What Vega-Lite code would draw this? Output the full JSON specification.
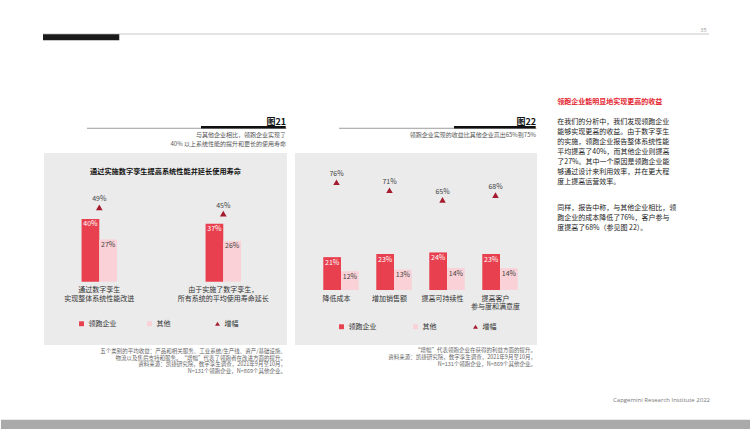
{
  "$schema": "https://vega.github.io/schema/vega-lite/v6.json",
  "background": "#ffffff",
  "padding": {"left": 0, "top": 26, "right": 0, "bottom": 0},
  "config": {
    "view": {"stroke": null},
    "font": "Noto Sans CJK SC",
    "text": {"font": "Noto Sans CJK SC"},
    "legend": {"labelFont": "Noto Sans CJK SC"}
  },
  "datasets": {
    "d21": [
      {"cat": "通过数字孪生\n实现整体系统性能改进", "series": "领跑企业", "value": 0.40},
      {"cat": "通过数字孪生\n实现整体系统性能改进", "series": "其他", "value": 0.27},
      {"cat": "由于实施了数字孪生，\n所有系统的平均使用寿命延长", "series": "领跑企业", "value": 0.37},
      {"cat": "由于实施了数字孪生，\n所有系统的平均使用寿命延长", "series": "其他", "value": 0.26}
    ],
    "g21": [
      {"cat": "通过数字孪生\n实现整体系统性能改进", "growth": 0.49},
      {"cat": "由于实施了数字孪生，\n所有系统的平均使用寿命延长", "growth": 0.45}
    ],
    "d22": [
      {"cat": "降低成本", "series": "领跑企业", "value": 0.21},
      {"cat": "降低成本", "series": "其他", "value": 0.12},
      {"cat": "增加销售额", "series": "领跑企业", "value": 0.23},
      {"cat": "增加销售额", "series": "其他", "value": 0.13},
      {"cat": "提高可持续性", "series": "领跑企业", "value": 0.24},
      {"cat": "提高可持续性", "series": "其他", "value": 0.14},
      {"cat": "提高客户\n参与度和满意度", "series": "领跑企业", "value": 0.23},
      {"cat": "提高客户\n参与度和满意度", "series": "其他", "value": 0.14}
    ],
    "g22": [
      {"cat": "降低成本", "growth": 0.76},
      {"cat": "增加销售额", "growth": 0.71},
      {"cat": "提高可持续性", "growth": 0.65},
      {"cat": "提高客户\n参与度和满意度", "growth": 0.68}
    ],
    "hdr": [
      {"id": "21", "fig": "图21", "sub": "与其他企业相比，领跑企业实现了\n40% 以上系统性能的提升和更长的使用寿命", "inner": "通过实施数字孪生提高系统性能并延长使用寿命", "foot": "五个类别的平均收益：产品和相关服务、工业系统/生产线、资产/基础设施、\n物流以及售后支持和服务。“增幅”代表了领跑者在改进方面的提升。\n资料来源：凯捷研究院，数字孪生调查，2021年9月至10月，\nN=131个领跑企业，N=869个其他企业。"},
      {"id": "22", "fig": "图22", "sub": "领跑企业实现的收益比其他企业高出65%到75%", "inner": "", "foot": "“增幅”代表领跑企业在获得的利益方面的提升。\n资料来源：凯捷研究院，数字孪生调查，2021年9月至10月，\nN=131个领跑企业，N=869个其他企业。"}
    ],
    "txt": [
      {"block": "title", "text": "领跑企业能明显地实现更高的收益"},
      {"block": "p1", "text": "在我们的分析中，我们发现领跑企业\n能够实现更高的收益。由于数字孪生\n的实施，领跑企业报告整体系统性能\n平均提高了40%，而其他企业则提高\n了27%。其中一个原因是领跑企业能\n够通过设计来利用效率，并在更大程\n度上提高运营效率。"},
      {"block": "p2", "text": "同样，报告中称，与其他企业相比，领\n跑企业的成本降低了76%，客户参与\n度提高了68%（参见图 22）。"}
    ],
    "page": [
      {"num": "35", "credit": "Capgemini Research Institute 2022"}
    ]
  },
  "spacing": 53,
  "vconcat": [
    {
      "width": 666,
      "height": 16,
      "data": {"name": "page"},
      "layer": [
        {
          "mark": {"type": "rule", "stroke": "#c8c8c8", "strokeWidth": 1},
          "encoding": {
            "x": {"datum": -0.0015, "type": "quantitative", "scale": {"domain": [0, 1]}, "axis": null},
            "x2": {"datum": 0.9985},
            "y": {"datum": 0.5, "type": "quantitative", "scale": {"domain": [0, 1], "reverse": true}, "axis": null}
          }
        },
        {
          "mark": {"type": "rule", "stroke": "#1a1a1a", "strokeWidth": 6},
          "encoding": {
            "x": {"datum": -0.0015, "type": "quantitative", "scale": {"domain": [0, 1]}, "axis": null},
            "x2": {"datum": 0.113},
            "y": {"datum": 0.7, "type": "quantitative", "scale": {"domain": [0, 1], "reverse": true}, "axis": null}
          }
        },
        {
          "mark": {"type": "text", "align": "right", "baseline": "middle", "fontSize": 5.5, "color": "#999999", "font": "Open Sans"},
          "encoding": {
            "x": {"datum": 0.995, "type": "quantitative", "scale": {"domain": [0, 1]}, "axis": null},
            "y": {"datum": 0.25, "type": "quantitative", "scale": {"domain": [0, 1], "reverse": true}, "axis": null},
            "text": {"field": "num"}
          }
        }
      ]
    },
    {
      "spacing": 14,
      "vconcat": [
        {
          "spacing": 19,
          "hconcat": [
            {
              "spacing": 7,
              "hconcat": [
                {
                  "spacing": 3,
                  "resolve": {"scale": {"color": "independent", "shape": "independent"}},
                  "vconcat": [
                    {
                      "width": 243,
                      "height": 55,
                      "data": {"name": "hdr"},
                      "transform": [{"filter": "datum.id === '21'"}],
                      "layer": [
                        {
                          "mark": {"type": "rule", "stroke": "#9c9c9c", "strokeWidth": 1},
                          "encoding": {
                            "x": {"datum": 0.177, "type": "quantitative", "scale": {"domain": [0, 1]}, "axis": null},
                            "x2": {"datum": 0.998},
                            "y": {"datum": 0.605, "type": "quantitative", "scale": {"domain": [0, 1], "reverse": true}, "axis": null}
                          }
                        },
                        {
                          "mark": {"type": "rule", "stroke": "#111111", "strokeWidth": 2.6},
                          "encoding": {
                            "x": {"datum": 0.646, "type": "quantitative", "scale": {"domain": [0, 1]}, "axis": null},
                            "x2": {"datum": 0.9946},
                            "y": {"datum": 0.587, "type": "quantitative", "scale": {"domain": [0, 1], "reverse": true}, "axis": null}
                          }
                        },
                        {
                          "mark": {"type": "text", "align": "right", "baseline": "middle", "fontSize": 9, "fontWeight": "bold", "color": "#111111"},
                          "encoding": {
                            "x": {"datum": 0.996, "type": "quantitative", "scale": {"domain": [0, 1]}, "axis": null},
                            "y": {"datum": 0.485, "type": "quantitative", "scale": {"domain": [0, 1], "reverse": true}, "axis": null},
                            "text": {"field": "fig"}
                          }
                        },
                        {
                          "mark": {"type": "text", "align": "right", "baseline": "top", "fontSize": 6, "lineHeight": 9, "lineBreak": "\n", "color": "#555555"},
                          "encoding": {
                            "x": {"datum": 0.996, "type": "quantitative", "scale": {"domain": [0, 1]}, "axis": null},
                            "y": {"datum": 0.676, "type": "quantitative", "scale": {"domain": [0, 1], "reverse": true}, "axis": null},
                            "text": {"field": "sub"}
                          }
                        }
                      ]
                    },
                    {
                      "width": 243,
                      "height": 192,
                      "view": {"fill": "#ebebeb", "stroke": null},
                      "resolve": {"scale": {"y": "independent"}},
                      "layer": [
                        {
                          "data": {"name": "d21"},
                          "mark": {"type": "bar"},
                          "encoding": {
                            "x": {"field": "cat", "type": "nominal", "sort": null, "axis": null, "scale": {"paddingInner": 0.5, "paddingOuter": 0.23, "align": 0.426}},
                            "xOffset": {"field": "series", "type": "nominal", "sort": ["领跑企业", "其他"], "scale": {"paddingInner": 0, "paddingOuter": 0.75}},
                            "y": {"field": "value", "type": "quantitative", "axis": null, "scale": {"domain": [-0.404, 0.821], "nice": false, "zero": false}},
                            "color": {
                              "field": "series", "type": "nominal",
                              "scale": {"domain": ["领跑企业", "其他", "增幅"], "range": ["#e8404e", "#f9d1d6", "#a41b2e"]},
                              "legend": {"title": null, "orient": "none", "legendX": 34, "legendY": 167, "direction": "horizontal", "gridAlign": "all", "columnPadding": 29, "symbolSize": 24, "labelFontSize": 7, "labelColor": "#333333", "labelOffset": 3.5, "padding": 0, "symbolStrokeWidth": 0}
                            }
                          }
                        },
                        {
                          "data": {"name": "d21"},
                          "mark": {"type": "text", "baseline": "top", "dy": 1.5, "fontSize": 7},
                          "encoding": {
                            "x": {"field": "cat", "type": "nominal", "sort": null, "axis": null},
                            "xOffset": {"field": "series", "type": "nominal", "sort": ["领跑企业", "其他"]},
                            "y": {"field": "value", "type": "quantitative", "axis": null, "scale": {"domain": [-0.404, 0.821], "nice": false, "zero": false}},
                            "text": {"field": "value", "format": ".0%"},
                            "color": {"condition": {"test": "datum.series === '领跑企业'", "value": "#ffffff"}, "value": "#444444"}
                          }
                        },
                        {
                          "data": {"name": "g21"},
                          "mark": {"type": "text", "baseline": "top", "dy": 4.5, "fontSize": 7, "lineBreak": "\n", "lineHeight": 8.5, "color": "#333333"},
                          "encoding": {
                            "x": {"field": "cat", "type": "nominal", "sort": null, "axis": null},
                            "y": {"datum": 0, "type": "quantitative", "axis": null, "scale": {"domain": [-0.404, 0.821], "nice": false, "zero": false}},
                            "text": {"field": "cat"}
                          }
                        },
                        {
                          "data": {"name": "g21"},
                          "mark": {"type": "point", "filled": true, "size": 45, "opacity": 1},
                          "encoding": {
                            "x": {"field": "cat", "type": "nominal", "sort": null, "axis": null},
                            "y": {"field": "growth", "type": "quantitative", "axis": null, "scale": {"domain": [-0.389, 0.8365], "nice": false, "zero": false}},
                            "color": {"datum": "增幅", "type": "nominal"},
                            "shape": {
                              "datum": "增幅", "type": "nominal",
                              "scale": {"domain": ["领跑企业", "其他", "增幅"], "range": ["square", "square", "triangle-up"]},
                              "legend": {"title": null, "orient": "none", "legendX": 34, "legendY": 167, "direction": "horizontal", "gridAlign": "all", "columnPadding": 29, "symbolSize": 24, "labelFontSize": 7, "labelColor": "#333333", "labelOffset": 3.5, "padding": 0, "symbolStrokeWidth": 0}
                            }
                          }
                        },
                        {
                          "data": {"name": "g21"},
                          "mark": {"type": "text", "baseline": "middle", "dy": -8, "fontSize": 7, "color": "#444444"},
                          "encoding": {
                            "x": {"field": "cat", "type": "nominal", "sort": null, "axis": null},
                            "y": {"field": "growth", "type": "quantitative", "axis": null, "scale": {"domain": [-0.389, 0.8365], "nice": false, "zero": false}},
                            "text": {"field": "growth", "format": ".0%"}
                          }
                        },
                        {
                          "data": {"name": "hdr"},
                          "transform": [{"filter": "datum.id === '21'"}],
                          "mark": {"type": "text", "baseline": "middle", "fontSize": 7.2, "fontWeight": "bold", "color": "#111111"},
                          "encoding": {
                            "y": {"datum": 0.9026, "type": "quantitative", "axis": null, "scale": {"domain": [0, 1]}},
                            "text": {"field": "inner"}
                          }
                        }
                      ]
                    },
                    {
                      "width": 243,
                      "height": 30,
                      "data": {"name": "hdr"},
                      "transform": [{"filter": "datum.id === '21'"}],
                      "mark": {"type": "text", "align": "right", "baseline": "top", "fontSize": 5.5, "lineHeight": 6.7, "lineBreak": "\n", "color": "#666666"},
                      "encoding": {
                        "x": {"datum": 0.996, "type": "quantitative", "scale": {"domain": [0, 1]}, "axis": null},
                        "y": {"datum": 0.03, "type": "quantitative", "scale": {"domain": [0, 1], "reverse": true}, "axis": null},
                        "text": {"field": "foot"}
                      }
                    }
                  ]
                },
                {
                  "spacing": 3,
                  "resolve": {"scale": {"color": "independent", "shape": "independent"}},
                  "vconcat": [
                    {
                      "width": 242,
                      "height": 55,
                      "data": {"name": "hdr"},
                      "transform": [{"filter": "datum.id === '22'"}],
                      "layer": [
                        {
                          "mark": {"type": "rule", "stroke": "#9c9c9c", "strokeWidth": 1},
                          "encoding": {
                            "x": {"datum": 0.182, "type": "quantitative", "scale": {"domain": [0, 1]}, "axis": null},
                            "x2": {"datum": 0.998},
                            "y": {"datum": 0.605, "type": "quantitative", "scale": {"domain": [0, 1], "reverse": true}, "axis": null}
                          }
                        },
                        {
                          "mark": {"type": "rule", "stroke": "#111111", "strokeWidth": 2.6},
                          "encoding": {
                            "x": {"datum": 0.657, "type": "quantitative", "scale": {"domain": [0, 1]}, "axis": null},
                            "x2": {"datum": 0.9946},
                            "y": {"datum": 0.587, "type": "quantitative", "scale": {"domain": [0, 1], "reverse": true}, "axis": null}
                          }
                        },
                        {
                          "mark": {"type": "text", "align": "right", "baseline": "middle", "fontSize": 9, "fontWeight": "bold", "color": "#111111"},
                          "encoding": {
                            "x": {"datum": 0.996, "type": "quantitative", "scale": {"domain": [0, 1]}, "axis": null},
                            "y": {"datum": 0.485, "type": "quantitative", "scale": {"domain": [0, 1], "reverse": true}, "axis": null},
                            "text": {"field": "fig"}
                          }
                        },
                        {
                          "mark": {"type": "text", "align": "right", "baseline": "top", "fontSize": 6, "lineHeight": 9, "lineBreak": "\n", "color": "#555555"},
                          "encoding": {
                            "x": {"datum": 0.996, "type": "quantitative", "scale": {"domain": [0, 1]}, "axis": null},
                            "y": {"datum": 0.676, "type": "quantitative", "scale": {"domain": [0, 1], "reverse": true}, "axis": null},
                            "text": {"field": "sub"}
                          }
                        }
                      ]
                    },
                    {
                      "width": 242,
                      "height": 192,
                      "view": {"fill": "#ebebeb", "stroke": null},
                      "resolve": {"scale": {"y": "independent"}},
                      "layer": [
                        {
                          "data": {"name": "d22"},
                          "mark": {"type": "bar"},
                          "encoding": {
                            "x": {"field": "cat", "type": "nominal", "sort": null, "axis": null, "scale": {"paddingInner": 0, "paddingOuter": 0.283}},
                            "xOffset": {"field": "series", "type": "nominal", "sort": ["领跑企业", "其他"], "scale": {"paddingInner": 0, "paddingOuter": 0.514}},
                            "y": {"field": "value", "type": "quantitative", "axis": null, "scale": {"domain": [-0.351, 0.875], "nice": false, "zero": false}},
                            "color": {
                              "field": "series", "type": "nominal",
                              "scale": {"domain": ["领跑企业", "其他", "增幅"], "range": ["#e8404e", "#f9d1d6", "#a41b2e"]},
                              "legend": {"title": null, "orient": "none", "legendX": 43, "legendY": 170, "direction": "horizontal", "gridAlign": "each", "columnPadding": 35, "symbolSize": 24, "labelFontSize": 7, "labelColor": "#333333", "labelOffset": 3.5, "padding": 0, "symbolStrokeWidth": 0}
                            }
                          }
                        },
                        {
                          "data": {"name": "d22"},
                          "mark": {"type": "text", "baseline": "top", "dy": 1.5, "fontSize": 7},
                          "encoding": {
                            "x": {"field": "cat", "type": "nominal", "sort": null, "axis": null},
                            "xOffset": {"field": "series", "type": "nominal", "sort": ["领跑企业", "其他"]},
                            "y": {"field": "value", "type": "quantitative", "axis": null, "scale": {"domain": [-0.351, 0.875], "nice": false, "zero": false}},
                            "text": {"field": "value", "format": ".0%"},
                            "color": {"condition": {"test": "datum.series === '领跑企业'", "value": "#ffffff"}, "value": "#444444"}
                          }
                        },
                        {
                          "data": {"name": "g22"},
                          "mark": {"type": "text", "baseline": "top", "dy": 4.5, "fontSize": 7, "lineBreak": "\n", "lineHeight": 8.5, "color": "#333333"},
                          "encoding": {
                            "x": {"field": "cat", "type": "nominal", "sort": null, "axis": null},
                            "y": {"datum": 0, "type": "quantitative", "axis": null, "scale": {"domain": [-0.351, 0.875], "nice": false, "zero": false}},
                            "text": {"field": "cat"}
                          }
                        },
                        {
                          "data": {"name": "g22"},
                          "mark": {"type": "point", "filled": true, "size": 42, "opacity": 1},
                          "encoding": {
                            "x": {"field": "cat", "type": "nominal", "sort": null, "axis": null},
                            "y": {"field": "growth", "type": "quantitative", "axis": null, "scale": {"domain": [-0.257, 0.943], "nice": false, "zero": false}},
                            "color": {"datum": "增幅", "type": "nominal"},
                            "shape": {
                              "datum": "增幅", "type": "nominal",
                              "scale": {"domain": ["领跑企业", "其他", "增幅"], "range": ["square", "square", "triangle-up"]},
                              "legend": {"title": null, "orient": "none", "legendX": 43, "legendY": 170, "direction": "horizontal", "gridAlign": "each", "columnPadding": 35, "symbolSize": 24, "labelFontSize": 7, "labelColor": "#333333", "labelOffset": 3.5, "padding": 0, "symbolStrokeWidth": 0}
                            }
                          }
                        },
                        {
                          "data": {"name": "g22"},
                          "mark": {"type": "text", "baseline": "middle", "dy": -8, "fontSize": 7, "color": "#444444"},
                          "encoding": {
                            "x": {"field": "cat", "type": "nominal", "sort": null, "axis": null},
                            "y": {"field": "growth", "type": "quantitative", "axis": null, "scale": {"domain": [-0.257, 0.943], "nice": false, "zero": false}},
                            "text": {"field": "growth", "format": ".0%"}
                          }
                        }
                      ]
                    },
                    {
                      "width": 242,
                      "height": 30,
                      "data": {"name": "hdr"},
                      "transform": [{"filter": "datum.id === '22'"}],
                      "mark": {"type": "text", "align": "right", "baseline": "top", "fontSize": 5.5, "lineHeight": 6.7, "lineBreak": "\n", "color": "#666666"},
                      "encoding": {
                        "x": {"datum": 0.996, "type": "quantitative", "scale": {"domain": [0, 1]}, "axis": null},
                        "y": {"datum": 0.005, "type": "quantitative", "scale": {"domain": [0, 1], "reverse": true}, "axis": null},
                        "text": {"field": "foot"}
                      }
                    }
                  ]
                }
              ]
            },
            {
              "width": 130,
              "height": 283,
              "data": {"name": "txt"},
              "layer": [
                {
                  "transform": [{"filter": "datum.block === 'title'"}],
                  "mark": {"type": "text", "align": "left", "baseline": "middle", "fontSize": 7, "fontWeight": "bold", "color": "#e3232f"},
                  "encoding": {
                    "x": {"datum": 0.002, "type": "quantitative", "scale": {"domain": [0, 1]}, "axis": null},
                    "y": {"datum": 0.0258, "type": "quantitative", "scale": {"domain": [0, 1], "reverse": true}, "axis": null},
                    "text": {"field": "text"}
                  }
                },
                {
                  "transform": [{"filter": "datum.block === 'p1'"}],
                  "mark": {"type": "text", "align": "left", "baseline": "top", "fontSize": 7, "lineHeight": 10, "lineBreak": "\n", "color": "#222222"},
                  "encoding": {
                    "x": {"datum": 0.002, "type": "quantitative", "scale": {"domain": [0, 1]}, "axis": null},
                    "y": {"datum": 0.083, "type": "quantitative", "scale": {"domain": [0, 1], "reverse": true}, "axis": null},
                    "text": {"field": "text"}
                  }
                },
                {
                  "transform": [{"filter": "datum.block === 'p2'"}],
                  "mark": {"type": "text", "align": "left", "baseline": "top", "fontSize": 7, "lineHeight": 10, "lineBreak": "\n", "color": "#222222"},
                  "encoding": {
                    "x": {"datum": 0.002, "type": "quantitative", "scale": {"domain": [0, 1]}, "axis": null},
                    "y": {"datum": 0.3834, "type": "quantitative", "scale": {"domain": [0, 1], "reverse": true}, "axis": null},
                    "text": {"field": "text"}
                  }
                }
              ]
            }
          ]
        },
        {
          "width": 666,
          "height": 37,
          "data": {"name": "page"},
          "layer": [
            {
              "mark": {"type": "rect", "color": "#aaaaaa"},
              "encoding": {
                "x": {"datum": -0.0646, "type": "quantitative", "scale": {"domain": [0, 1]}, "axis": null},
                "x2": {"datum": 1.0616},
                "y": {"datum": 0.75, "type": "quantitative", "scale": {"domain": [0, 1], "reverse": true}, "axis": null},
                "y2": {"datum": 1}
              }
            },
            {
              "mark": {"type": "text", "align": "right", "baseline": "middle", "fontSize": 6, "color": "#777777", "font": "Open Sans"},
              "encoding": {
                "x": {"datum": 1, "type": "quantitative", "scale": {"domain": [0, 1]}, "axis": null},
                "y": {"datum": 0.216, "type": "quantitative", "scale": {"domain": [0, 1], "reverse": true}, "axis": null},
                "text": {"field": "credit"}
              }
            }
          ]
        }
      ]
    }
  ]
}
